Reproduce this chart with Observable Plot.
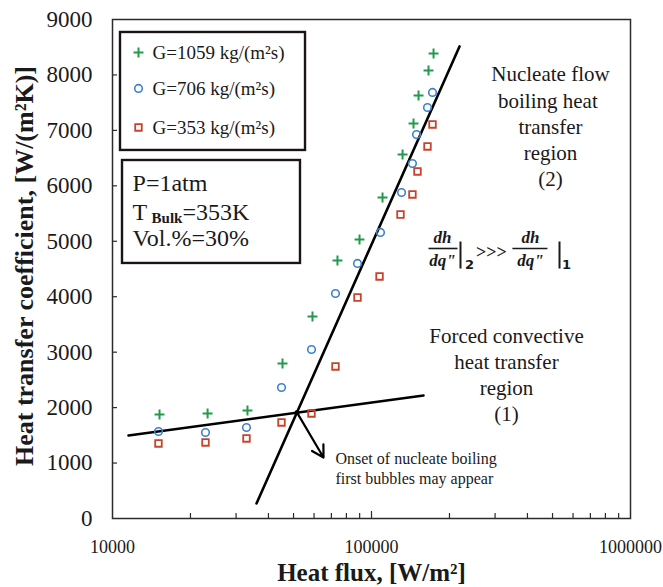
<!DOCTYPE html>
<html><head><meta charset="utf-8">
<script src="https://cdn.jsdelivr.net/npm/d3@7"></script>
<script src="https://cdn.jsdelivr.net/npm/@observablehq/plot@0.6"></script>
<style>body{margin:0;background:#fff}</style>
</head><body><div id="chart"></div>
<script>
// ---- data ----
const seriesNames = ["G=1059 kg/(m²s)", "G=706 kg/(m²s)", "G=353 kg/(m²s)"];
const heatFluxG1059 = [15190, 23290, 33200, 45330, 59180, 73900, 89900, 110300, 131800, 145300, 151900, 166000, 173600];
const htcG1059     = [1876, 1894, 1948, 2796, 3644, 4654, 5032, 5790, 6566, 7125, 7630, 8081, 8387];
const heatFluxG706 = [15050, 22860, 32910, 44930, 58660, 72600, 88300, 108300, 130600, 143900, 149200, 164500, 172000];
const htcG706      = [1569, 1551, 1641, 2363, 3048, 4058, 4600, 5159, 5880, 6403, 6926, 7413, 7684];
const heatFluxG353 = [15050, 22860, 32910, 44930, 58660, 72600, 88300, 107400, 129400, 143900, 150500, 164500, 172000];
const htcG353      = [1353, 1371, 1443, 1732, 1894, 2742, 3986, 4365, 5483, 5844, 6259, 6710, 7107];

// trend lines (endpoints) and onset point
const forcedFitQ = [11530, 158800];
const forcedFitH = [1497, 2219];
const nucleateFitQ = [35970, 218700];
const nucleateFitH = [271, 8514];
const onsetQ = 51600, onsetH = 1910;
const onsetArrowTipQ = 65270, onsetArrowTipH = 1100;

// ticks
const xTickLabels = [10000, 100000, 1000000];
const yTicks = [0, 1000, 2000, 3000, 4000, 5000, 6000, 7000, 8000, 9000];
const xMinorTicks = [20000,30000,40000,50000,60000,70000,80000,90000,200000,300000,400000,500000,600000,700000,800000,900000];

// ---- build tables ----
const toRows = (qs, hs, s) => qs.map((q, i) => ({q, h: hs[i], s}));
const g1059 = toRows(heatFluxG1059, htcG1059, seriesNames[0]);
const g706 = toRows(heatFluxG706, htcG706, seriesNames[1]);
const g353 = toRows(heatFluxG353, htcG353, seriesNames[2]);
const forcedLine = toRows(forcedFitQ, forcedFitH, "forced");
const nucleateLine = toRows(nucleateFitQ, nucleateFitH, "nucleate");

// ---- annotation placement (data units) ----
const legendBox = {x1: 10737, x2: 55620, y1: 6638, y2: 8766};
const legendSymX = 12600, legendTextX = 14270, legendYs = [8405, 7756, 7053];
const infoBox = {x1: 10930, x2: 53190, y1: 4600, y2: 6457};
const infoX = 11950, infoYs = [6043, 5519, 5051];

const green = "#23994a", blue = "#3f80cc", red = "#c8432b", ink = "#1a1a1a";
const serif = "'Liberation Serif', 'Times New Roman', serif";

const symStyle = [
  {symbol: "plus", r: 3.3, stroke: green, strokeWidth: 2},
  {symbol: "circle", r: 3.8, stroke: blue, strokeWidth: 1.6, fill: "none"},
  {symbol: "square", r: 3.7, stroke: red, strokeWidth: 1.8, fill: "none"}
];

const legendRows = seriesNames.map((s, i) => ({s, q: legendSymX, h: legendYs[i], i}));

const exprFont = {fontFamily: serif, fontStyle: "italic", fontWeight: "bold", fill: ink};
const chart = Plot.plot({
  width: 663, height: 587,
  marginLeft: 112, marginRight: 33, marginTop: 19, marginBottom: 69,
  style: {fontFamily: serif, color: ink, background: "#fff"},
  x: {type: "log", domain: [1e4, 1e6]},
  y: {domain: [0, 9000]},
  marks: [
    Plot.frame({stroke: "#2b2b2b", strokeWidth: 1.5}),
    Plot.tickY(yTicks.slice(1, -1), {y: d => d, insetRight: 513, stroke: "#2b2b2b", strokeWidth: 1.2}),
    Plot.tickX(xMinorTicks, {x: d => d, insetTop: 494, stroke: "#2b2b2b", strokeWidth: 1.2}),
    Plot.tickX([100000], {x: d => d, insetTop: 492, stroke: "#2b2b2b", strokeWidth: 1.2}),
    Plot.axisY({ticks: yTicks, tickSize: 0, tickPadding: 20, fontSize: 23, tickFormat: d => String(d), label: null}),
    Plot.axisX({ticks: xTickLabels, tickSize: 0, tickPadding: 22, fontSize: 18, tickFormat: d => String(d), label: null}),
    Plot.text(["Heat transfer coefficient, [W/(m²K)]"], {frameAnchor: "left", textAnchor: "middle", lineAnchor: "middle", dx: -88, dy: -3, rotate: -90, fontSize: 26, fontWeight: "bold", fill: ink}),
    Plot.text(["Heat flux, [W/m²]"], {frameAnchor: "bottom", textAnchor: "middle", lineAnchor: "middle", dy: 54, fontSize: 25, fontWeight: "bold", fill: ink}),

    // fitted lines and onset arrow
    Plot.line(forcedLine, {x: "q", y: "h", stroke: "#000", strokeWidth: 2.6}),
    Plot.line(nucleateLine, {x: "q", y: "h", stroke: "#000", strokeWidth: 2.6}),
    Plot.arrow([{}], {x1: () => onsetQ, y1: () => onsetH, x2: () => onsetArrowTipQ, y2: () => onsetArrowTipH, stroke: "#000", strokeWidth: 2.2, headLength: 9, bend: 0}),
    Plot.dot([{q: onsetQ, h: onsetH}], {x: "q", y: "h", r: 2.5, fill: "#000"}),

    // data
    Plot.dot(g1059, {x: "q", y: "h", ...symStyle[0]}),
    Plot.dot(g706, {x: "q", y: "h", ...symStyle[1]}),
    Plot.dot(g353, {x: "q", y: "h", ...symStyle[2]}),

    // legend box
    Plot.rect([legendBox], {x1: "x1", x2: "x2", y1: "y1", y2: "y2", fill: "#fff", stroke: "#1c1414", strokeWidth: 2.4}),
    ...legendRows.map((d, i) => Plot.dot([d], {x: "q", y: "h", ...symStyle[i]})),
    Plot.text(legendRows, {x: () => legendTextX, y: "h", text: "s", textAnchor: "start", fontSize: 19, fill: ink}),

    // info box
    Plot.rect([infoBox], {x1: "x1", x2: "x2", y1: "y1", y2: "y2", fill: "#fff", stroke: "#1c1414", strokeWidth: 2.4}),
    Plot.text(["P=1atm"], {x: () => infoX, y: () => infoYs[0], textAnchor: "start", fontSize: 24, fill: ink}),
    Plot.text(["T"], {x: () => infoX, y: () => infoYs[1], textAnchor: "start", fontSize: 24, fill: ink}),
    Plot.text(["Bulk"], {x: () => infoX, y: () => infoYs[1], dx: 19, dy: 6, textAnchor: "start", fontSize: 15, fontWeight: "bold", fill: ink}),
    Plot.text(["=353K"], {x: () => infoX, y: () => infoYs[1], dx: 50, textAnchor: "start", fontSize: 24, fill: ink}),
    Plot.text(["Vol.%=30%"], {x: () => infoX, y: () => infoYs[2], textAnchor: "start", fontSize: 24, fill: ink}),

    // region labels
    Plot.text(["Nucleate flow\nboiling heat \ntransfer\nregion\n(2)"], {x: () => 491000, y: () => 7090, fontSize: 21, lineHeight: 1.25, fill: ink}),
    Plot.text(["Forced convective\nheat transfer\nregion\n(1)"], {x: () => 332000, y: () => 2606, fontSize: 21, lineHeight: 1.24, fill: ink}),
    Plot.text(["Onset of nucleate boiling", "first bubbles may appear"], {x: () => 72600, y: (d, i) => [1070, 720][i], textAnchor: "start", fontSize: 16, fill: ink}),

    // dh/dq'' expression
    Plot.text(["dh"], {x: () => 188000, y: () => 5068, fontSize: 17, ...exprFont}),
    Plot.text(["dq\""], {x: () => 188000, y: () => 4654, fontSize: 17, ...exprFont}),
    Plot.link([{}], {x1: () => 166000, x2: () => 214800, y1: () => 4870, y2: () => 4870, stroke: ink, strokeWidth: 1.6}),
    Plot.link([{}], {x1: () => 220600, x2: () => 220600, y1: () => 4996, y2: () => 4509, stroke: ink, strokeWidth: 2}),
    Plot.text(["2"], {x: () => 239000, y: () => 4581, fontSize: 13, fontFamily: "'DejaVu Sans', sans-serif", fontWeight: "bold", fill: ink}),
    Plot.text([">>>"], {x: () => 290600, y: () => 4798, fontSize: 18, fontWeight: "bold", fill: ink}),
    Plot.text(["dh"], {x: () => 411000, y: () => 5068, fontSize: 17, ...exprFont}),
    Plot.text(["dq\""], {x: () => 411000, y: () => 4654, fontSize: 17, ...exprFont}),
    Plot.link([{}], {x1: () => 350000, x2: () => 478000, y1: () => 4870, y2: () => 4870, stroke: ink, strokeWidth: 1.6}),
    Plot.link([{}], {x1: () => 532000, x2: () => 532000, y1: () => 4996, y2: () => 4509, stroke: ink, strokeWidth: 2}),
    Plot.text(["1"], {x: () => 566000, y: () => 4581, fontSize: 13, fontFamily: "'DejaVu Sans', sans-serif", fontWeight: "bold", fill: ink})
  ]
});
document.getElementById("chart").append(chart);
</script>
</body></html>
